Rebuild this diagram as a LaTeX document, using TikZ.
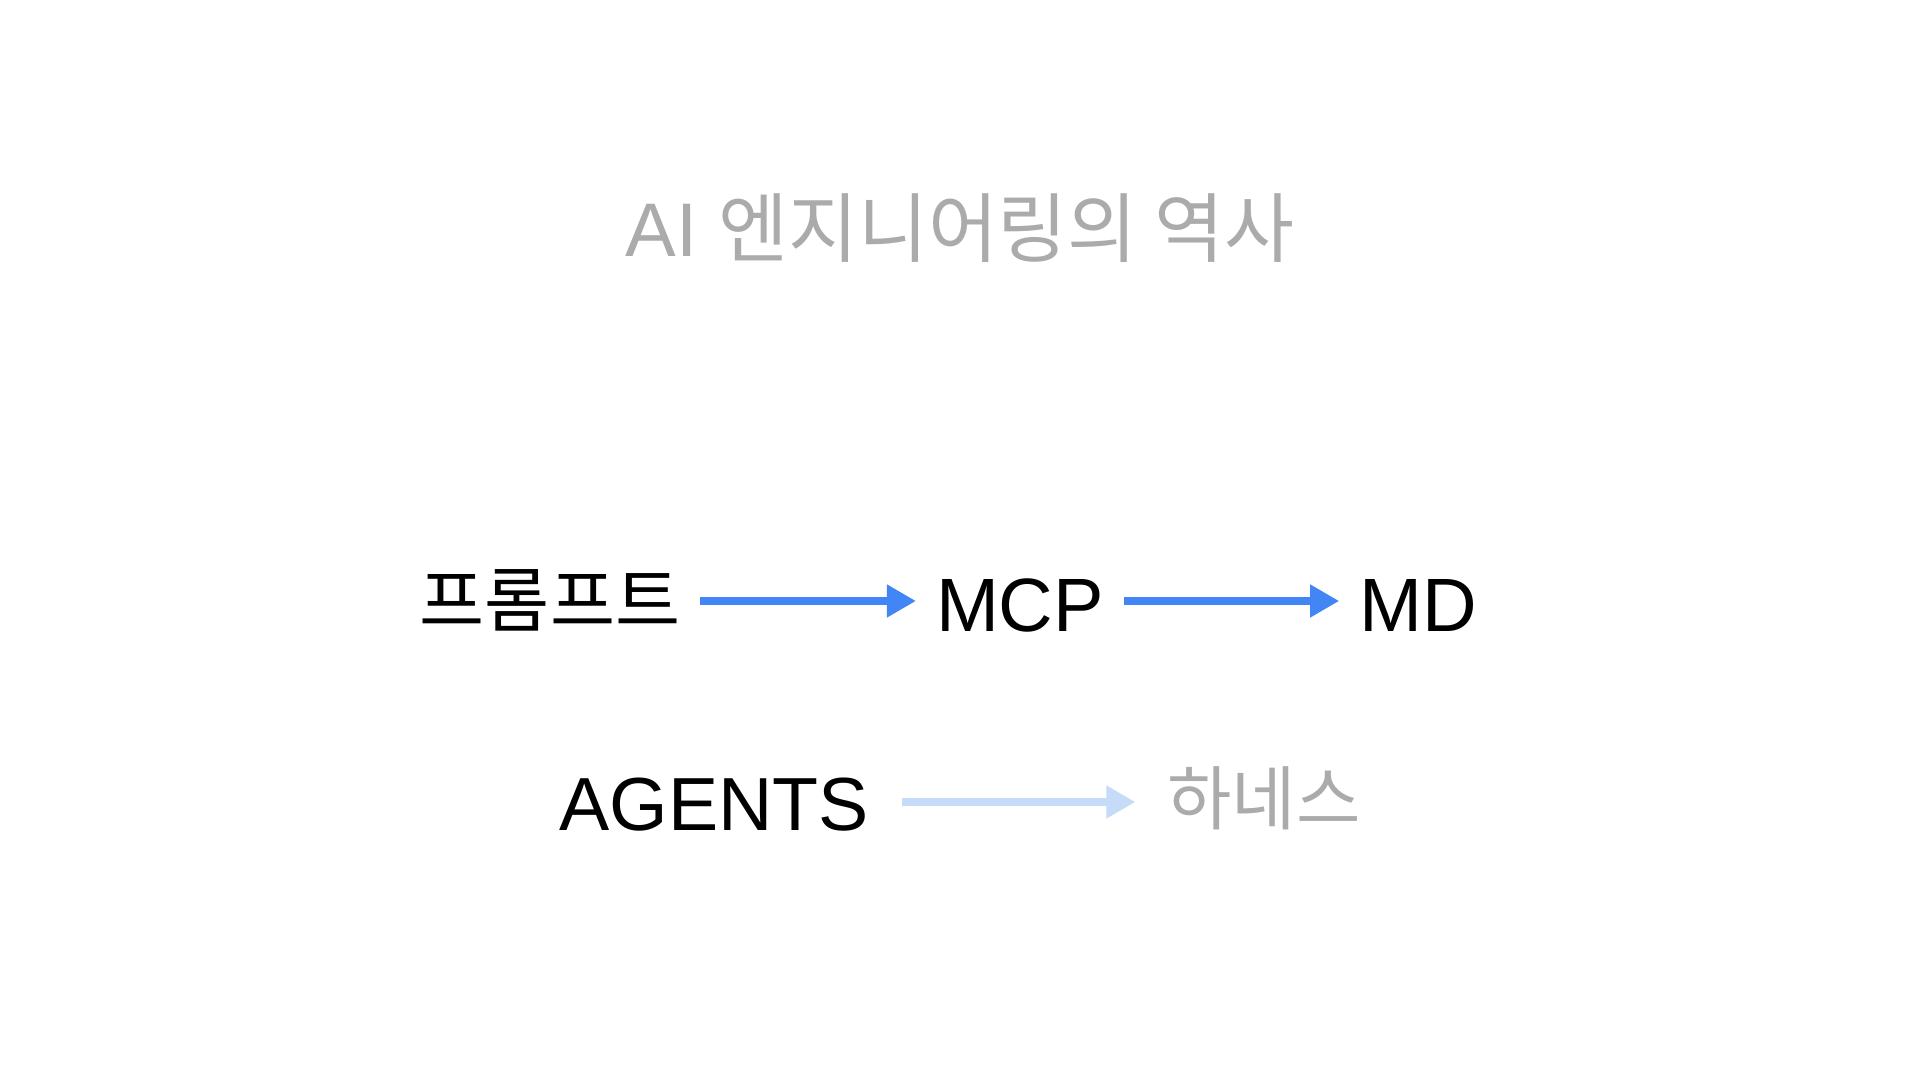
\documentclass[tikz,border=0pt]{standalone}
\usepackage{fontspec}
\setmainfont{Liberation Sans}
\newfontfamily\kr{Noto Sans CJK KR}
\usetikzlibrary{arrows.meta}
\definecolor{titlegray}{HTML}{ABABAB}
\definecolor{arrowblue}{HTML}{4285F4}
\definecolor{lightblue}{HTML}{C6DBF7}
\tikzset{
  lbl/.style={inner sep=0pt, outer xsep=0.2cm, anchor=base, text=black},
  ttl/.style={inner sep=0pt, anchor=base, text=titlegray},
  arr/.style={line width=2.2pt, draw=arrowblue, -{Triangle[length=0.29cm,width=0.31cm]}},
  arrlight/.style={arr, draw=lightblue},
}
\begin{document}
\begin{tikzpicture}[x=0.01cm,y=-0.01cm]
\useasboundingbox[fill=white] (0,0) rectangle (1920,1080);
\node[ttl] (title) at (960,257) {\fontsize{21.6}{26}\selectfont AI {\kr 엔지니어링의 역사}};
\node[lbl] (prompt) at (550,627) {\kr\fontsize{20.1}{24}\selectfont 프롬프트};
\node[lbl] (mcp) at (1020,632) {\fontsize{21.5}{26}\selectfont MCP};
\node[lbl] (md) at (1418,632) {\fontsize{21.5}{26}\selectfont MD};
\node[lbl] (agents) at (714,831) {\fontsize{21.4}{26}\selectfont AGENTS};
\node[lbl, text=titlegray] (harness) at (1264,825) {\kr\fontsize{19.9}{23}\selectfont 하네스};
\draw[arr] (prompt.east |- 0,601) -- (mcp.west |- 0,601);
\draw[arr] (mcp.east |- 0,601) -- (md.west |- 0,601);
\draw[arrlight, shorten <=0.13cm, shorten >=0.12cm] (agents.east |- 0,802) -- (harness.west |- 0,802);
\end{tikzpicture}
\end{document}
